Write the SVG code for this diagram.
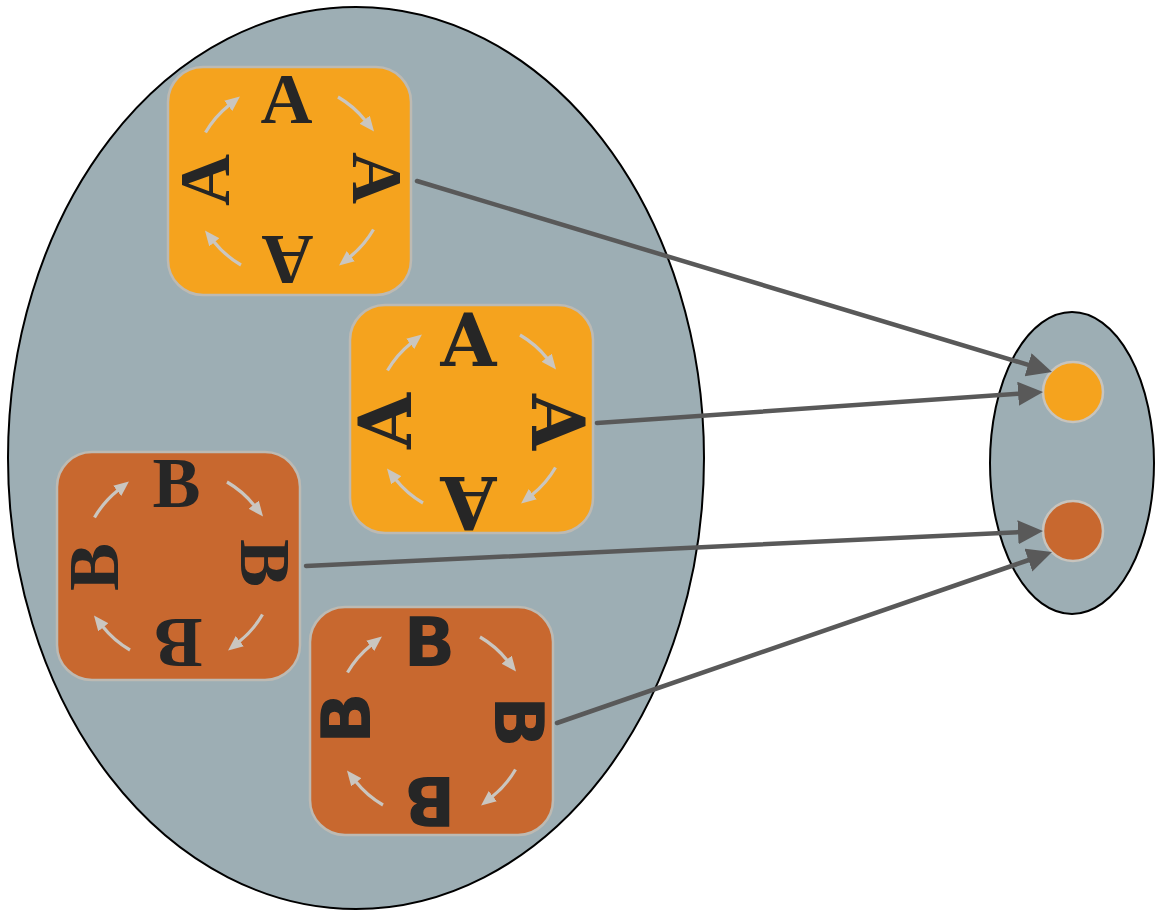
<svg xmlns="http://www.w3.org/2000/svg" xmlns:xlink="http://www.w3.org/1999/xlink" width="1155" height="912" viewBox="0 0 1155 912">
<style>
.cluster{fill:#9daeb4;stroke:#000;stroke-width:2}
.box{stroke:#bdbab3;stroke-width:2.5}
.orange{fill:#f5a31e}
.rust{fill:#c8682f}
.cyc{fill:none;stroke:#cac6c0;stroke-width:3.2;marker-end:url(#small)}
.edge{fill:none;stroke:#595959;stroke-width:4.5;stroke-linecap:round;marker-end:url(#big)}
.l{fill:#262626;text-anchor:middle}
.fa{font-family:"Liberation Serif",serif;font-weight:bold;font-size:72px}
.fa2{font-family:"DejaVu Serif",serif;font-weight:bold;font-size:72px}
.fb{font-family:"Liberation Serif",serif;font-weight:bold;font-size:72px}
.fb2{font-family:"DejaVu Sans",sans-serif;font-weight:bold;font-size:68px}
.dot{stroke:#c8c4bd;stroke-width:2.5}
</style>
<defs>
<marker id="small" markerUnits="userSpaceOnUse" markerWidth="17" markerHeight="15" refX="1" refY="6.5" orient="auto">
<path d="M0,0 L15,6.5 L0,13 z" fill="#cac6c0"/>
</marker>
<marker id="big" markerUnits="userSpaceOnUse" markerWidth="27" markerHeight="26" refX="2" refY="12" orient="auto">
<path d="M0,0 L25,12 L0,24 z" fill="#595959"/>
</marker>
<g id="cycle">
<path class="cyc" d="M-84,-48.5 A97,97 0 0 1 -60.5,-75.8"/>
<path class="cyc" d="M48.5,-84 A97,97 0 0 1 75.8,-60.5"/>
<path class="cyc" d="M84,48.5 A97,97 0 0 1 60.5,75.8"/>
<path class="cyc" d="M-48.5,84 A97,97 0 0 1 -75.8,60.5"/>
</g>
</defs>

<g id="clusterLeft"><ellipse class="cluster" cx="356" cy="458" rx="348" ry="451"/></g>
<g id="clusterRight"><ellipse class="cluster" cx="1072" cy="463" rx="82" ry="151"/></g>

<g id="boxA1" transform="translate(289.5,181)">
<rect class="box orange" x="-121.5" y="-114" width="243" height="228" rx="35"/>
<use xlink:href="#cycle"/>
<g class="l fa">
<text transform="translate(-3,-82) rotate(0)" y="24">A</text>
<text transform="translate(87,-3) rotate(90)" y="24">A</text>
<text transform="translate(-2,79) rotate(180)" y="24">A</text>
<text transform="translate(-85,-1) rotate(-90)" y="24">A</text>
</g>
</g>

<g id="boxA2" transform="translate(471.5,419)">
<rect class="box orange" x="-121.5" y="-114" width="243" height="228" rx="35"/>
<use xlink:href="#cycle"/>
<g class="l fa2">
<text transform="translate(-3,-79) rotate(0)" y="26">A</text>
<text transform="translate(86,3) rotate(90)" y="26">A</text>
<text transform="translate(-3,84) rotate(180)" y="26">A</text>
<text transform="translate(-87,2) rotate(-90)" y="26">A</text>
</g>
</g>

<g id="boxB1" transform="translate(178.5,566)">
<rect class="box rust" x="-121.5" y="-114" width="243" height="228" rx="35"/>
<use xlink:href="#cycle"/>
<g class="l fb">
<text transform="translate(-2,-83) rotate(0)" y="24">B</text>
<text transform="translate(86,-3) rotate(90)" y="24">B</text>
<text transform="translate(0,77) rotate(180)" y="24">B</text>
<text transform="translate(-85,1) rotate(-90)" y="24">B</text>
</g>
</g>

<g id="boxB2" transform="translate(431.5,721)">
<rect class="box rust" x="-121.5" y="-114" width="243" height="228" rx="35"/>
<use xlink:href="#cycle"/>
<g class="l fb2">
<text transform="translate(-2,-80) rotate(0)" y="25">B</text>
<text transform="translate(88,1) rotate(90)" y="25">B</text>
<text transform="translate(-2,81) rotate(180)" y="25">B</text>
<text transform="translate(-87,-3) rotate(-90)" y="25">B</text>
</g>
</g>

<g id="dotA"><circle class="dot orange" cx="1073" cy="392" r="30"/></g>
<g id="dotB"><circle class="dot rust" cx="1073" cy="531" r="30"/></g>

<g id="connectors">
<path class="edge" d="M417,181 L1030,365.4"/>
<path class="edge" d="M597,423 L1020.1,393.6"/>
<path class="edge" d="M306,566 L1020,532.1"/>
<path class="edge" d="M557,723 L1030.3,559.5"/>
</g>
</svg>
